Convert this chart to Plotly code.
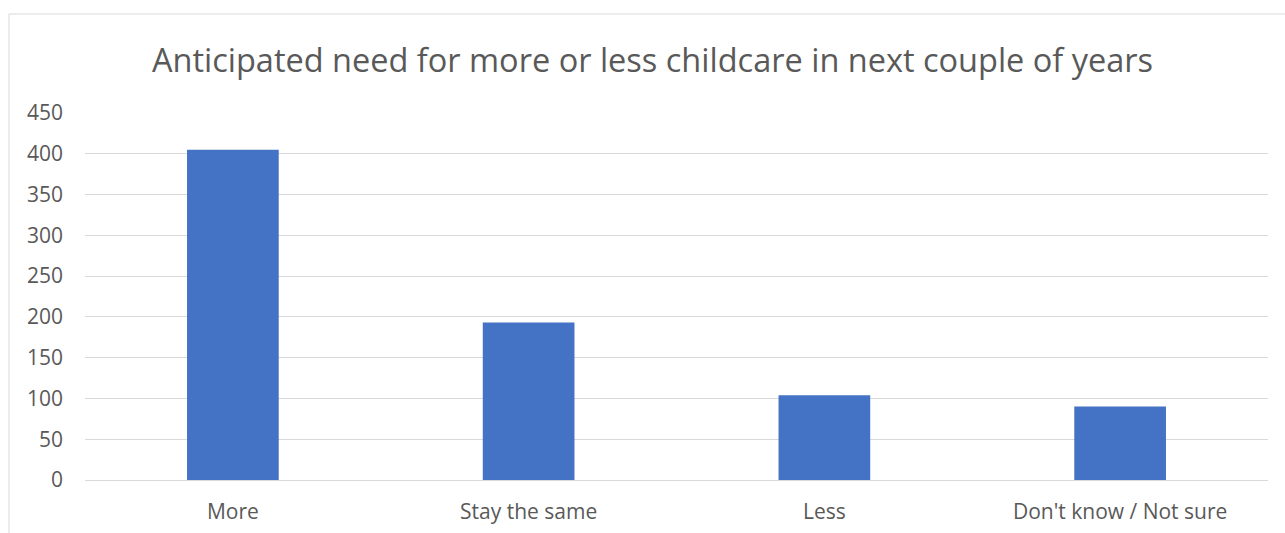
import plotly.graph_objects as go

categories = ["More", "Stay the same", "Less", "Don't know / Not sure"]
values = [405, 193, 104, 90]
y_ticks = [0, 50, 100, 150, 200, 250, 300, 350, 400, 450]

W, H = 1285, 533
L, R, T, B = 85, 17, 113, 53
pw, ph = W - L - R, H - T - B

def px_x(px):
    return (px - L) / pw

def px_y(py):
    return (H - B - py) / ph

font_family = "Open Sans, Liberation Sans, sans-serif"
txt = "#595959"

fig = go.Figure(go.Bar(
    x=categories, y=values,
    marker=dict(color="#4472C4", line=dict(width=0)),
    width=0.31,
))

fig.update_layout(
    width=W, height=H,
    margin=dict(l=L, r=R, t=T, b=B, autoexpand=False),
    paper_bgcolor="white", plot_bgcolor="white",
    showlegend=False,
    title=dict(
        text="Anticipated need for more or less childcare in next couple of years",
        x=652.5 / W, xref="container", xanchor="center",
        y=1 - 61 / H, yref="container", yanchor="middle",
        font=dict(family=font_family, size=32.5, color=txt),
    ),
    font=dict(family=font_family, size=21, color=txt),
    xaxis=dict(
        showgrid=False, showline=False, zeroline=False, automargin=False,
        ticks="", ticklabelstandoff=17,
        tickfont=dict(family=font_family, size=21, color=txt),
    ),
    yaxis=dict(
        range=[0, 450], tickvals=y_ticks, automargin=False,
        showgrid=True, gridcolor="#d9d9d9", gridwidth=1,
        zeroline=True, zerolinecolor="#d9d9d9", zerolinewidth=1,
        showline=False, ticks="", ticklabelstandoff=21,
        tickfont=dict(family=font_family, size=21, color=txt),
    ),
    shapes=[
        dict(type="line", xref="paper", yref="paper",
             x0=px_x(9), x1=px_x(9), y0=px_y(14), y1=px_y(540),
             line=dict(color="#d9d9d9", width=1)),
        dict(type="line", xref="paper", yref="paper",
             x0=px_x(9), x1=px_x(1290), y0=px_y(14), y1=px_y(14),
             line=dict(color="#d9d9d9", width=1)),
    ],
)

fig.write_html(
    "out.html",
    config={"displayModeBar": False},
    post_script="document.body.style.margin='0';document.body.style.overflow='hidden';",
)
